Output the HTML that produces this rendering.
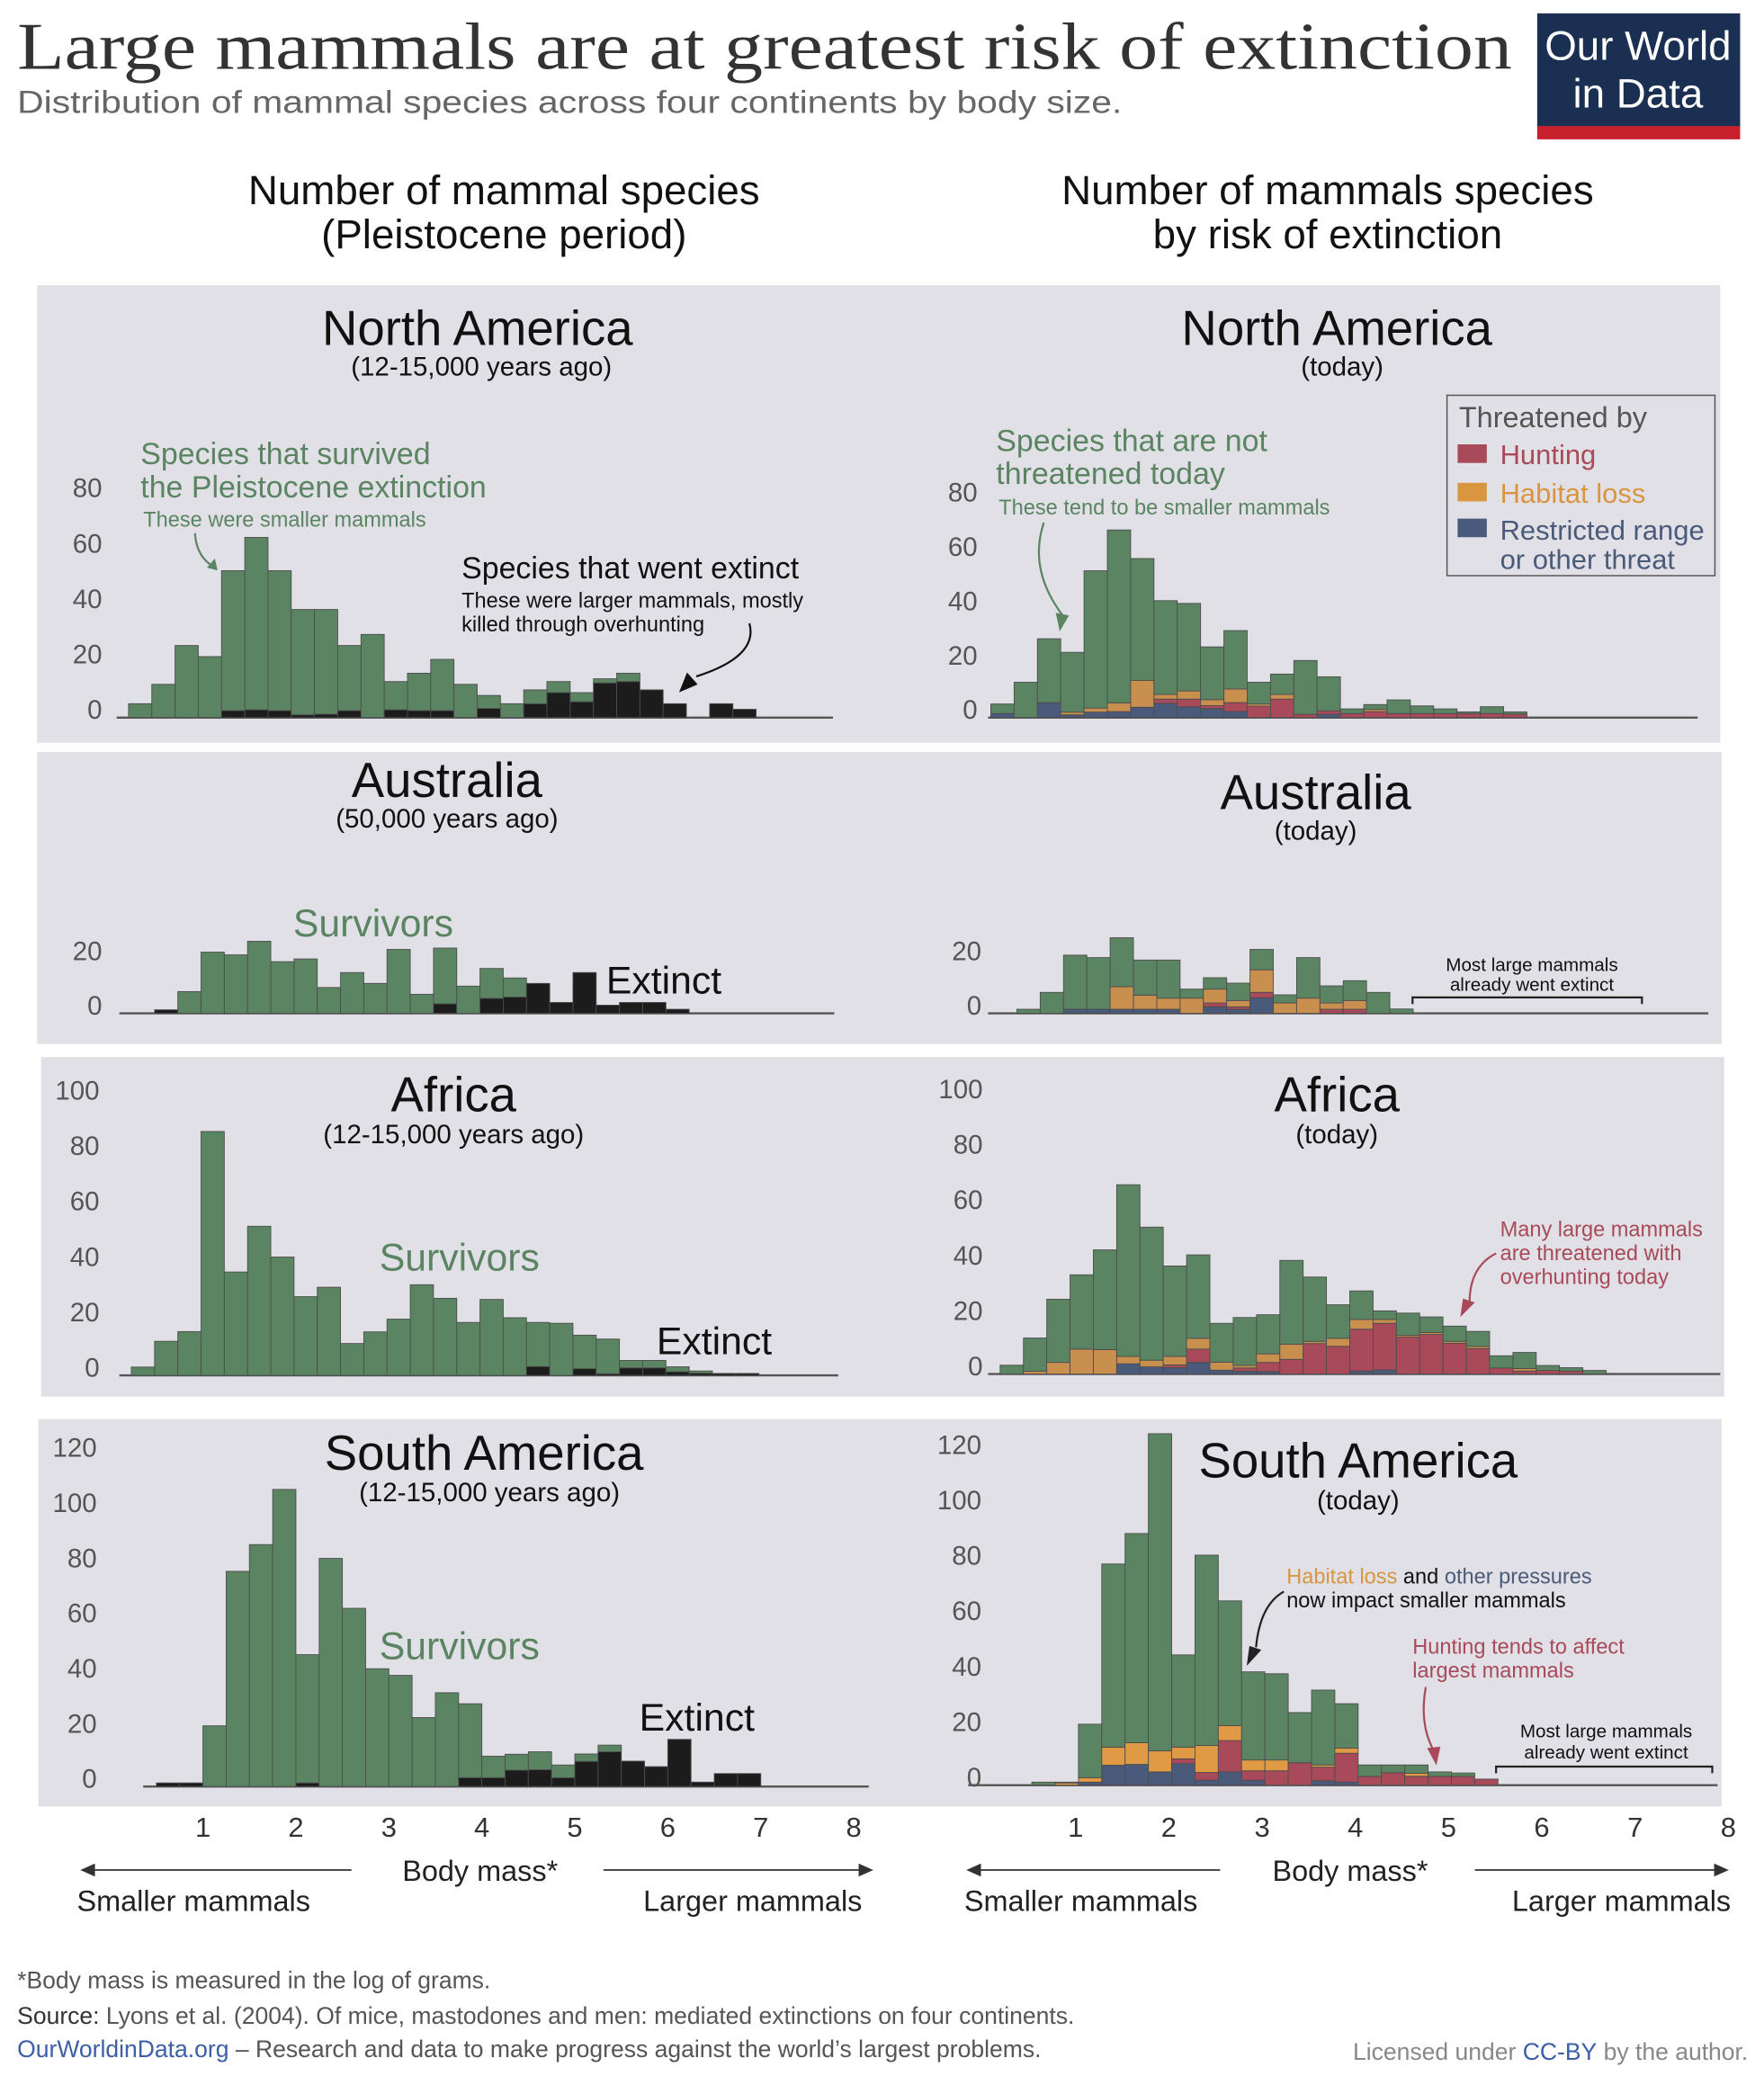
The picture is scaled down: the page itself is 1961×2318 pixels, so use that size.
<!DOCTYPE html>
<html><head><meta charset="utf-8">
<style>
html,body{margin:0;padding:0;background:#fff;}
svg{display:block;}
text{font-family:"Liberation Sans",sans-serif;}
</style></head>
<body>
<svg id="chart" width="1961" height="2318" viewBox="0 0 1330 1572" xmlns="http://www.w3.org/2000/svg">
<rect x="0" y="0" width="1330" height="1572" fill="#fff"/>
<text x="13" y="52" style="font-family:'Liberation Serif',serif" font-size="50" fill="#333" textLength="1127" lengthAdjust="spacingAndGlyphs">Large mammals are at greatest risk of extinction</text>
<text x="13" y="85" font-size="24" fill="#666" textLength="833" lengthAdjust="spacingAndGlyphs">Distribution of mammal species across four continents by body size.</text>
<g>
<rect x="1159" y="10" width="153" height="86" fill="#1a2f52"/>
<rect x="1159" y="95" width="153" height="10" fill="#c8202d"/>
<text x="1235" y="45" text-anchor="middle" font-size="31" fill="#fff">Our World</text>
<text x="1235" y="81" text-anchor="middle" font-size="31" fill="#fff">in Data</text>
</g>
<g font-size="31" fill="#111" text-anchor="middle">
<text x="380" y="154">Number of mammal species</text>
<text x="380" y="187">(Pleistocene period)</text>
</g>
<g font-size="31" fill="#111" text-anchor="middle">
<text x="1001" y="154">Number of mammals species</text>
<text x="1001" y="187">by risk of extinction</text>
</g>
<rect x="28" y="215" width="1269" height="345" fill="#e1e0e6"/>
<rect x="28" y="567" width="1270" height="220" fill="#e1e0e6"/>
<rect x="31" y="797" width="1269" height="256" fill="#e1e0e6"/>
<rect x="29" y="1070" width="1269" height="292" fill="#e1e0e6"/>
<g id="bars"></g>
<g id="labels" fill="#111" text-anchor="middle">
<text x="360" y="260" font-size="37">North America</text>
<text x="363" y="283" font-size="20">(12-15,000 years ago)</text>
<text x="1008" y="260" font-size="37">North America</text>
<text x="1012" y="283" font-size="20">(today)</text>
<text x="337" y="601" font-size="37">Australia</text>
<text x="337" y="624" font-size="20">(50,000 years ago)</text>
<text x="992" y="610" font-size="37">Australia</text>
<text x="992" y="633" font-size="20">(today)</text>
<text x="342" y="838" font-size="37">Africa</text>
<text x="342" y="862" font-size="20">(12-15,000 years ago)</text>
<text x="1008" y="838" font-size="37">Africa</text>
<text x="1008" y="862" font-size="20">(today)</text>
<text x="365" y="1108" font-size="37">South America</text>
<text x="369" y="1132" font-size="20">(12-15,000 years ago)</text>
<text x="1024" y="1114" font-size="37">South America</text>
<text x="1024" y="1138" font-size="20">(today)</text>
</g>
<g fill="#5a8462">
<text x="106" y="350" font-size="23">Species that survived</text>
<text x="106" y="375" font-size="23">the Pleistocene extinction</text>
<text x="108" y="397" font-size="16">These were smaller mammals</text>
<path d="M147 402 Q148 420 162 428" stroke="#5a8462" stroke-width="1.5" fill="none"/>
<path d="M156 428 L164 430 L162 421 Z"/>
</g>
<g fill="#111">
<text x="348" y="436" font-size="23">Species that went extinct</text>
<text x="348" y="458" font-size="16">These were larger mammals, mostly</text>
<text x="348" y="476" font-size="16">killed through overhunting</text>
<path d="M565 470 Q572 495 525 510" stroke="#111" stroke-width="1.5" fill="none"/>
<path d="M512 522 L518 507 L526 516 Z"/>
</g>
<g fill="#5a8462">
<text x="751" y="340" font-size="23">Species that are not</text>
<text x="751" y="365" font-size="23">threatened today</text>
<text x="753" y="388" font-size="16">These tend to be smaller mammals</text>
<path d="M787 394 Q775 430 802 465" stroke="#5a8462" stroke-width="1.5" fill="none"/>
<path d="M799 476 L796 462 L806 464 Z"/>
</g>
<g>
<rect x="1091" y="298" width="202" height="136" fill="none" stroke="#555" stroke-width="1"/>
<text x="1100" y="322" font-size="22" fill="#555">Threatened by</text>
<rect x="1099" y="335" width="22" height="14" fill="#a84a5a"/>
<text x="1131" y="350" font-size="21" fill="#a84a5a">Hunting</text>
<rect x="1099" y="364" width="22" height="14" fill="#d9953f"/>
<text x="1131" y="379" font-size="21" fill="#d9953f">Habitat loss</text>
<rect x="1099" y="391" width="22" height="14" fill="#4a5a7a"/>
<text x="1131" y="407" font-size="21" fill="#4a5a7a">Restricted range</text>
<text x="1131" y="429" font-size="21" fill="#4a5a7a">or other threat</text>
</g>
<text x="221" y="706" font-size="29" fill="#5a8462">Survivors</text>
<text x="457" y="749" font-size="29" fill="#111">Extinct</text>
<g fill="#111" text-anchor="middle" font-size="14">
<text x="1155" y="732">Most large mammals</text>
<text x="1155" y="747">already went extinct</text>
<path d="M1065 757 V752 H1238 V757" stroke="#222" stroke-width="1.5" fill="none"/>
</g>
<text x="286" y="958" font-size="29" fill="#5a8462">Survivors</text>
<text x="495" y="1021" font-size="29" fill="#111">Extinct</text>
<g fill="#a84a5a" font-size="16">
<text x="1131" y="932">Many large mammals</text>
<text x="1131" y="950">are threatened with</text>
<text x="1131" y="968">overhunting today</text>
<path d="M1128 945 Q1108 955 1108 982" stroke="#a84a5a" stroke-width="1.5" fill="none"/>
<path d="M1101 993 L1103 979 L1112 982 Z"/>
</g>
<text x="286" y="1251" font-size="29" fill="#5a8462">Survivors</text>
<text x="482" y="1305" font-size="29" fill="#111">Extinct</text>
<g font-size="16">
<text x="970" y="1194"><tspan fill="#d9953f">Habitat loss</tspan><tspan fill="#111"> and </tspan><tspan fill="#4a5a7a">other pressures</tspan></text>
<text x="970" y="1212" fill="#111">now impact smaller mammals</text>
<path d="M968 1200 Q950 1210 947 1242" stroke="#222" stroke-width="1.5" fill="none"/>
<path d="M940 1256 L942 1241 L951 1244 Z" fill="#222"/>
</g>
<g fill="#a84a5a" font-size="16">
<text x="1065" y="1247">Hunting tends to affect</text>
<text x="1065" y="1265">largest mammals</text>
<path d="M1075 1272 Q1070 1300 1081 1320" stroke="#a84a5a" stroke-width="1.5" fill="none"/>
<path d="M1083 1331 L1076 1318 L1086 1317 Z"/>
</g>
<g fill="#111" text-anchor="middle" font-size="14">
<text x="1211" y="1310">Most large mammals</text>
<text x="1211" y="1326">already went extinct</text>
<path d="M1128 1337 V1332 H1291 V1337" stroke="#222" stroke-width="1.5" fill="none"/>
</g>
<g id="xaxes" fill="#333" font-size="21" text-anchor="middle"></g>
<g font-size="22" fill="#222">
<path d="M62 1410 H265 M62 1410 l9 -4 v8 z" stroke="#333" stroke-width="1.2" fill="#333"/>
<text x="362" y="1418" text-anchor="middle">Body mass*</text>
<path d="M455 1410 H657 M657 1410 l-9 -4 v8 z" stroke="#333" stroke-width="1.2" fill="#333"/>
<text x="58" y="1441">Smaller mammals</text>
<text x="650" y="1441" text-anchor="end">Larger mammals</text>
</g>
<g font-size="22" fill="#222">
<path d="M730 1410 H920 M730 1410 l9 -4 v8 z" stroke="#333" stroke-width="1.2" fill="#333"/>
<text x="1018" y="1418" text-anchor="middle">Body mass*</text>
<path d="M1112 1410 H1302 M1302 1410 l-9 -4 v8 z" stroke="#333" stroke-width="1.2" fill="#333"/>
<text x="727" y="1441">Smaller mammals</text>
<text x="1305" y="1441" text-anchor="end">Larger mammals</text>
</g>
<g font-size="18" fill="#555">
<text x="13" y="1499">*Body mass is measured in the log of grams.</text>
<text x="13" y="1526"><tspan fill="#333">Source:</tspan> Lyons et al. (2004). Of mice, mastodones and men: mediated extinctions on four continents.</text>
<text x="13" y="1551"><tspan fill="#3c5fa8">OurWorldinData.org</tspan> – Research and data to make progress against the world’s largest problems.</text>
<text x="1318" y="1553" text-anchor="end" fill="#888">Licensed under <tspan fill="#3c5fa8">CC-BY</tspan> by the author.</text>
</g>
</svg>
<script>
// ---- data: bins of 0.25 log10(grams) ----
const naLeftTotal = [5,12,26,22,53,65,53,39,39,26,30,13,16,21,12,8,5,10,13,9,14,16,10,5,0,5,3];
const naLeftExtinct = [0,0,0,0,2.5,2.8,2.5,1,1.2,2.5,0,2.8,2.5,2.5,0,3.3,0,5,9,5.7,12.5,13,10,5,0,5,3];
const naRightTotal = [5,13,29,24,54,69,58.5,43,42,26,32,13,16,21,15,3.2,4.8,6.5,4.3,3.2,2.1,4,2.1];
const naRightRestricted = [1.5,0,5.5,1,2,2.2,3.8,5.2,4,3.3,2.2,0,0,0,1.2,0,0,0,0,0,0,0,0];
const naRightHunting = [0,0,0,0,0,0,0,1.6,2.8,1.1,3.3,4.2,6.8,1.2,1.3,1.5,2.2,1.5,1.5,1.5,1.5,1.5,1.3];
const naRightHabitat = [0,0,0,1,1.5,3.2,9.9,1.7,3,2.2,5,0.8,1.7,0,0,0,0.8,0,0,0,0,0,0];
const auLeftTotal = [1.3,8,22.5,21.5,26.5,19,20,9.5,15,11,23.5,7,24,10,16.5,13,11,4,15,3,4,4,1.5];
const auLeftExtinct = [1.3,0,0,0,0,0,0,0,0,0,0,0,3.5,0,5.5,6,11,4,15,3,4,4,1.5];
const auRightTotal = [1.5,7.7,21.4,20.5,27.8,19.6,19.6,8.9,13.1,11.1,23.5,6.8,20.5,10.1,12,7.7,1.6];
const auRightRestricted = [0,0,1.5,1.5,1.5,1.5,1.5,0,2.4,1.5,5.7,0,0,0,0,0,0];
const auRightHunting = [0,0,0,0,0,0,0,0,1.4,0.9,2,0,0,1.5,1.5,0,0];
const auRightHabitat = [0,0,0,0,8.3,5.2,4.1,5.6,5.1,2.3,8.3,3.8,5.6,2.3,3.2,0,0];
const afLeftTotal = [3,12.3,15.8,88,37.3,53.8,42.7,28.4,31.8,11.5,15.7,20.3,32.7,27.8,19.1,27.4,20.8,19.1,18.8,14.5,13.1,5.4,5.4,3.1,1.6,0.7,0.7];
const afLeftExtinct = [0,0,0,0,0,0,0,0,0,0,0,0,0,0,0,0,0,3.2,0,2.4,0.6,2.7,2.7,1.3,0.8,0.7,0.7];
const afRightTotal = [3.2,13,27,35.8,44.8,68.3,53,39,43,18.3,20.4,21.4,41,35,25,30,22.8,22,20.6,17.3,15.4,6.6,7.8,3.1,2.3,1.3];
const afRightRestricted = [0,0,0,0,0,3.7,2.6,2.3,4.2,1.4,1,0.9,0,0,0,1.1,1.5,0,0,0,0,0,0,0,0,0];
const afRightHunting = [0,0,0,0,0,0,0,1,4.8,0,1.2,3.3,5.3,11,10,15.1,16.8,13.4,14.3,11.1,9.2,2.2,1.1,1.3,1.1,0];
const afRightHabitat = [0,1,4.2,9,8.8,2.7,2.4,3.1,3.9,2.9,0.9,3.1,5.5,0.8,2.9,3.5,1.4,0.6,0.7,0.7,0.8,0,0.9,0,0,0];
const saLeftTotal = [1.3,1.3,22,78,87.7,107.7,47.8,82.7,64.6,42.7,40.3,25,34,30,11,11.7,12.6,7.8,11.8,15,9.2,7.2,17.1,1.6,4.7,4.7];
const saLeftExtinct = [1.3,1.3,0,0,0,0,1.3,0,0,0,0,0,0,3.2,3.2,5.9,6.1,3.2,9.1,12.6,9.2,7.2,17.1,1.6,4.7,4.7];
const saRightTotal = [1.1,1.1,22,79.8,90.8,126.8,47,83,66.5,40.9,40.2,26.2,34.3,29.4,7.3,7.3,7.3,4.8,4.4,2.2];
const saRightRestricted = [0,0,1.1,7.2,7.5,4.8,7.8,1.8,4.8,1.8,0,0,1.6,1.1,0,0,0,0,0,0];
const saRightHunting = [0,0,0,0,0,0,1.7,2.8,11.3,3.4,5.2,8.1,4.9,10.4,3.2,4.5,3.2,3.2,3.2,2.2];
const saRightHabitat = [0,0.8,1.6,6.5,7.8,7.6,4.2,9.7,5.4,3.9,3.9,0,0.8,1.9,0,0,1.1,0,0,0];
const naTicks = [0,20,40,60,80];
const auTicks = [0,20];
const afTicks = [0,20,40,60,80,100];
const saTicks = [0,20,40,60,80,100,120];
const xTickLabels = [1,2,3,4,5,6,7,8];
const binWidth = 0.25;

const NS = 'http://www.w3.org/2000/svg';
const barsG = document.getElementById('bars');
const C = {green:'#5a8462', black:'#1c1c1c', red:'#a84a5a', orange:'#c98f4e', blue:'#4a5a7a'};
function xLeft(v){ return 153 + (v-1)*70.1; }
function xRight(v){ return 811 + (v-1)*70.3; }
function mk(tag, attrs, parent){ const e=document.createElementNS(NS,tag); for(const k in attrs) e.setAttribute(k,attrs[k]); parent.appendChild(e); return e; }

function axis(p){
  const g = mk('g',{},barsG);
  
  
  mk('line',{x1:p.ax0,x2:p.ax1,y1:p.base,y2:p.base,stroke:'#555','stroke-width':1.6},g);
  p.ticks.forEach(t=>{
    const tx = mk('text',{x:p.lx,y:p.base - t*p.unit + 1,'text-anchor':'end','font-size':20,fill:'#555'},g);
    
    
    tx.textContent = t;
  });
}
function rect(g, xf, start, i, y0, v, unit, base, color, name){
  if(v<=0) return;
  const x0 = xf(start + i*binWidth), x1 = xf(start + (i+1)*binWidth);
  const r = mk('rect',{x:x0,y:base-(y0+v)*unit,width:x1-x0,height:v*unit,fill:color,stroke:'#4d4d4d','stroke-width':0.6},g);
  
  
}
function pastPanel(p, total, ext){
  axis(p);
  const g = mk('g',{},barsG);
  
  
  total.forEach((t,i)=>{
    const e = ext[i];
    rect(g, xLeft, p.start, i, 0, e, p.unit, p.base, C.black, 'bar-extinct');
    rect(g, xLeft, p.start, i, e, t-e, p.unit, p.base, C.green, 'bar-survived');
  });
}
function todayPanel(p, total, blue, red, orange){
  axis(p);
  const g = mk('g',{},barsG);
  
  
  total.forEach((t,i)=>{
    let y=0;
    rect(g, xRight, p.start, i, y, blue[i], p.unit, p.base, C.blue, 'bar-restricted'); y+=blue[i];
    rect(g, xRight, p.start, i, y, red[i], p.unit, p.base, C.red, 'bar-hunting'); y+=red[i];
    rect(g, xRight, p.start, i, y, orange[i], p.unit, p.base, p.orange||C.orange, 'bar-habitat'); y+=orange[i];
    rect(g, xRight, p.start, i, y, t-y, p.unit, p.base, C.green, 'bar-not-threatened');
  });
}
pastPanel({id:'na-left',base:541,unit:2.09,start:0.2,ax0:88,ax1:628,lx:77,ticks:naTicks}, naLeftTotal, naLeftExtinct);
todayPanel({id:'na-right',base:541,unit:2.05,start:0.09,ax0:745,ax1:1280,lx:737,ticks:naTicks}, naRightTotal, naRightRestricted, naRightHunting, naRightHabitat);
pastPanel({id:'au-left',base:764,unit:2.05,start:0.48,ax0:90,ax1:629,lx:77,ticks:auTicks}, auLeftTotal, auLeftExtinct);
todayPanel({id:'au-right',base:764,unit:2.05,start:0.37,ax0:745,ax1:1288,lx:740,ticks:auTicks}, auRightTotal, auRightRestricted, auRightHunting, auRightHabitat);
pastPanel({id:'af-left',base:1037,unit:2.09,start:0.23,ax0:90,ax1:632,lx:75,ticks:afTicks}, afLeftTotal, afLeftExtinct);
todayPanel({id:'af-right',base:1036,unit:2.09,start:0.19,ax0:745,ax1:1297,lx:741,ticks:afTicks}, afRightTotal, afRightRestricted, afRightHunting, afRightHabitat);
pastPanel({id:'sa-left',base:1347,unit:2.08,start:0.5,ax0:108,ax1:655,lx:73,ticks:saTicks}, saLeftTotal, saLeftExtinct);
todayPanel({id:'sa-right',base:1346,unit:2.09,start:0.53,ax0:730,ax1:1295,lx:740,ticks:saTicks,orange:'#e09a45'}, saRightTotal, saRightRestricted, saRightHunting, saRightHabitat);

const xg = document.getElementById('xaxes');
xTickLabels.forEach(v=>{
  const a = mk('text',{x:xLeft(v),y:1385},xg);
  
  
  a.textContent = v;
  const b = mk('text',{x:xRight(v),y:1385},xg);
  
  
  b.textContent = v;
});
</script>
</body></html>
